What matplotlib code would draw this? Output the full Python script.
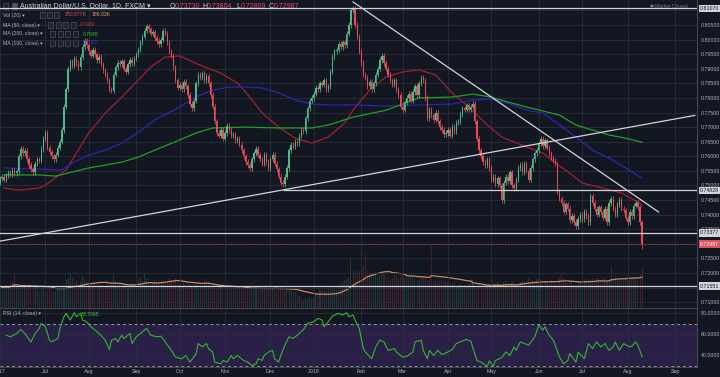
import numpy as np
import pandas as pd
import matplotlib
matplotlib.use("Agg")
import matplotlib.pyplot as plt
import matplotlib.transforms as mtransforms
from matplotlib.patches import Rectangle, Circle
from matplotlib.ticker import FormatStrFormatter, FuncFormatter

plt.rcParams['font.family'] = ['Liberation Sans', 'DejaVu Sans']

# ---- AUD/USD daily closes (FXCM), one list per month ----
close_2017_06 = [0.7525, 0.7530, 0.7520, 0.7535, 0.7545, 0.7538, 0.7550, 0.7542, 0.7548, 0.7600,
                 0.7625, 0.7610, 0.7618, 0.7590, 0.7570, 0.7555, 0.7545, 0.7575, 0.7590, 0.7585,
                 0.7625, 0.7660]
close_2017_07 = [0.7680, 0.7630, 0.7615, 0.7600, 0.7590, 0.7605, 0.7630, 0.7650, 0.7690, 0.7770,
                 0.7830, 0.7900, 0.7925, 0.7910, 0.7935, 0.7920, 0.7905, 0.7940, 0.7975, 0.7995,
                 0.7980]
close_2017_08 = [0.7960, 0.7945, 0.7965, 0.7950, 0.7930, 0.7940, 0.7915, 0.7895, 0.7880, 0.7860,
                 0.7830, 0.7825, 0.7880, 0.7905, 0.7920, 0.7915, 0.7925, 0.7900, 0.7890, 0.7915,
                 0.7930, 0.7920, 0.7935]
close_2017_09 = [0.7950, 0.7965, 0.7990, 0.8010, 0.8030, 0.8045, 0.8035, 0.8020, 0.8025, 0.8005,
                 0.7995, 0.7985, 0.8000, 0.8030, 0.8020, 0.7990, 0.7960, 0.7945, 0.7905, 0.7860,
                 0.7835]
close_2017_10 = [0.7845, 0.7830, 0.7855, 0.7840, 0.7810, 0.7780, 0.7765, 0.7790, 0.7850, 0.7880,
                 0.7870, 0.7885, 0.7860, 0.7875, 0.7850, 0.7810, 0.7770, 0.7720, 0.7680, 0.7670,
                 0.7690, 0.7660]
close_2017_11 = [0.7680, 0.7705, 0.7690, 0.7670, 0.7675, 0.7655, 0.7660, 0.7640, 0.7620, 0.7600,
                 0.7580, 0.7570, 0.7560, 0.7590, 0.7610, 0.7625, 0.7605, 0.7590, 0.7575, 0.7605,
                 0.7580, 0.7560]
close_2017_12 = [0.7590, 0.7605, 0.7575, 0.7555, 0.7530, 0.7510, 0.7505, 0.7530, 0.7560, 0.7620,
                 0.7640, 0.7635, 0.7650, 0.7645, 0.7670, 0.7690, 0.7685, 0.7730, 0.7765, 0.7790,
                 0.7800]
close_2018_01 = [0.7815, 0.7835, 0.7830, 0.7850, 0.7845, 0.7860, 0.7830, 0.7840, 0.7890, 0.7940,
                 0.7960, 0.7965, 0.7985, 0.7975, 0.7990, 0.7980, 0.8020, 0.8050, 0.8100, 0.8105,
                 0.8050, 0.8010, 0.7960]
close_2018_02 = [0.7920, 0.7880, 0.7870, 0.7840, 0.7855, 0.7830, 0.7850, 0.7880, 0.7900, 0.7930,
                 0.7945, 0.7920, 0.7900, 0.7880, 0.7860, 0.7845, 0.7860, 0.7830, 0.7810, 0.7770]
close_2018_03 = [0.7760, 0.7785, 0.7800, 0.7815, 0.7790, 0.7820, 0.7840, 0.7810, 0.7850, 0.7870,
                 0.7860, 0.7800, 0.7730, 0.7760, 0.7740, 0.7725, 0.7750, 0.7720, 0.7700, 0.7690,
                 0.7675, 0.7680]
close_2018_04 = [0.7690, 0.7670, 0.7700, 0.7685, 0.7715, 0.7720, 0.7745, 0.7765, 0.7760, 0.7775,
                 0.7760, 0.7770, 0.7780, 0.7720, 0.7660, 0.7620, 0.7600, 0.7580, 0.7570, 0.7590,
                 0.7560]
close_2018_05 = [0.7520, 0.7530, 0.7505, 0.7525, 0.7500, 0.7450, 0.7510, 0.7530, 0.7515, 0.7545,
                 0.7500, 0.7490, 0.7520, 0.7560, 0.7570, 0.7545, 0.7575, 0.7550, 0.7520, 0.7560,
                 0.7590, 0.7610, 0.7620]
close_2018_06 = [0.7645, 0.7660, 0.7635, 0.7655, 0.7630, 0.7610, 0.7595, 0.7585, 0.7575, 0.7480,
                 0.7455, 0.7440, 0.7410, 0.7435, 0.7420, 0.7380, 0.7395, 0.7375, 0.7360, 0.7385,
                 0.7400]
close_2018_07 = [0.7385, 0.7410, 0.7395, 0.7375, 0.7465, 0.7440, 0.7420, 0.7400, 0.7425, 0.7410,
                 0.7390, 0.7420, 0.7375, 0.7440, 0.7455, 0.7420, 0.7400, 0.7435, 0.7450, 0.7420,
                 0.7415, 0.7390]
close_2018_08 = [0.7375, 0.7410, 0.7395, 0.7430, 0.7440, 0.7425, 0.7373, 0.72987]

first_open = 0.7510
last_open, last_high, last_low, last_close = 0.73730, 0.73804, 0.72809, 0.72987

# daily volume, thousands
vol_2017_06 = [120, 135, 128, 142, 118, 150, 160, 212, 138, 125, 110, 145, 132, 128, 150, 118, 122, 140, 135, 98, 126, 130]
vol_2017_07 = [115, 105, 122, 98, 110, 100, 118, 125, 108, 130, 175, 190, 210, 185, 160, 172, 150, 168, 205, 180, 165]
vol_2017_08 = [150, 140, 135, 160, 128, 145, 138, 122, 130, 150, 142, 165, 205, 170, 138, 150, 125, 140, 132, 128, 145, 150, 118]
vol_2017_09 = [160, 175, 190, 170, 210, 185, 165, 150, 158, 172, 160, 150, 178, 165, 155, 170, 185, 168, 175, 190, 165]
vol_2017_10 = [150, 140, 160, 148, 135, 142, 130, 138, 150, 125, 132, 145, 180, 170, 165, 140, 130, 128, 125, 120, 135, 118]
vol_2017_11 = [130, 122, 118, 125, 112, 128, 120, 135, 118, 126, 140, 115, 110, 122, 118, 130, 105, 125, 128, 120, 112, 118]
vol_2017_12 = [125, 118, 140, 115, 112, 130, 120, 108, 115, 110, 105, 98, 92, 80, 72, 55, 50, 62, 58, 70, 65]
vol_2018_01 = [60, 85, 95, 110, 120, 105, 115, 125, 110, 130, 120, 115, 140, 150, 165, 175, 180, 195, 312, 230, 210, 240, 225]
vol_2018_02 = [245, 260, 337, 230, 215, 210, 200, 225, 190, 205, 210, 220, 195, 200, 180, 190, 210, 205, 185, 195]
vol_2018_03 = [210, 190, 200, 185, 195, 205, 180, 175, 190, 185, 200, 195, 170, 180, 400, 165, 175, 160, 170, 180, 165, 170]
vol_2018_04 = [160, 150, 155, 165, 140, 145, 150, 138, 142, 130, 150, 165, 175, 140, 120, 130, 125, 128, 135, 130, 145]
vol_2018_05 = [140, 155, 148, 160, 150, 135, 165, 170, 150, 145, 160, 155, 140, 150, 165, 175, 160, 170, 185, 160, 175, 165, 180]
vol_2018_06 = [180, 165, 155, 170, 160, 150, 175, 160, 150, 145, 185, 210, 190, 165, 155, 150, 160, 145, 140, 165, 160]
vol_2018_07 = [170, 180, 165, 175, 160, 185, 170, 190, 180, 175, 195, 185, 170, 180, 262, 185, 195, 180, 175, 170, 190, 185]
vol_2018_08 = [185, 195, 180, 200, 190, 175, 210, 250.577]

# moving averages shown on the chart (trading day number from 2017-06-01, value)
ma50_day = [2, 9, 19, 22, 32, 43, 51, 59, 67, 73, 80, 87, 99, 107, 115, 119, 127, 135, 143, 151, 159,
            167, 171, 179, 187, 195, 203, 211, 219, 227, 235, 243, 255, 263, 269, 276, 282, 292, 301, 309, 311]
ma50_val = [0.7491, 0.7484, 0.7491, 0.7501, 0.7553, 0.7680, 0.7748, 0.7803, 0.7861, 0.7906, 0.7940,
            0.7944, 0.7906, 0.7885, 0.7851, 0.7820, 0.7748, 0.7700, 0.7662, 0.7645, 0.7666, 0.7714,
            0.7758, 0.7827, 0.7872, 0.7889, 0.7896, 0.7879, 0.7817, 0.7769, 0.7714, 0.7666, 0.7632,
            0.7611, 0.7577, 0.7542, 0.7508, 0.7491, 0.7474, 0.7443, 0.7432]
ma100_day = [2, 30, 35, 43, 51, 59, 67, 75, 87, 95, 103, 111, 119, 127, 135, 143, 151, 159, 171, 187,
             203, 219, 229, 238, 246, 255, 263, 271, 279, 287, 295, 303, 311]
ma100_val = [0.7560, 0.7553, 0.7577, 0.7604, 0.7621, 0.7645, 0.7683, 0.7724, 0.7769, 0.7803, 0.7827,
             0.7837, 0.7837, 0.7834, 0.7817, 0.7793, 0.7779, 0.7776, 0.7776, 0.7772, 0.7776, 0.7779,
             0.7793, 0.7796, 0.7782, 0.7758, 0.7748, 0.7707, 0.7666, 0.7621, 0.7594, 0.7560, 0.7525]
ma200_day = [2, 19, 27, 35, 43, 51, 59, 67, 75, 87, 95, 103, 119, 135, 151, 159, 171, 187, 203, 219,
             229, 238, 246, 255, 271, 279, 287, 295, 303, 311]
ma200_val = [0.7536, 0.7536, 0.7532, 0.7546, 0.7560, 0.7570, 0.7580, 0.7597, 0.7621, 0.7656, 0.7680,
             0.7697, 0.7700, 0.7697, 0.7697, 0.7707, 0.7734, 0.7758, 0.7800, 0.7803, 0.7813, 0.7803,
             0.7786, 0.7769, 0.7741, 0.7707, 0.7690, 0.7673, 0.7662, 0.7648]

# RSI(14) as drawn
rsi_day = [3, 5, 8, 10, 12, 15, 17, 19, 20, 22, 24, 25, 28, 29, 31, 32, 34, 36, 37, 39, 40, 42, 44, 48,
           51, 53, 54, 56, 57, 59, 60, 63, 64, 66, 68, 71, 73, 76, 78, 80, 83, 85, 88, 90, 92, 95, 96,
           98, 100, 101, 103, 104, 107, 108, 110, 112, 113, 115, 116, 118, 120, 122, 124, 125, 127,
           128, 130, 132, 133, 135, 136, 138, 140, 142, 144, 147, 149, 152, 154, 156, 157, 159, 161,
           164, 166, 168, 169, 171, 172, 174, 176,
           177, 180, 182, 184, 186, 188, 191, 192, 195, 197, 200, 201, 204, 205, 207, 208, 210, 212,
           214, 216, 219, 221, 224, 226, 228, 231, 233, 236, 237, 239, 240, 243, 245, 247, 249, 250,
           252, 254, 256, 259, 261, 263, 264, 266, 268, 271, 273, 275, 276, 279, 280, 283, 285, 287,
           289, 291, 293, 295, 297, 298, 300, 302, 305, 306, 308, 309, 311]
rsi_val = [59.2, 57.6, 60.8, 64.6, 60.8, 52.8, 60.8, 65.6, 70.4, 67.2, 54.4, 52.8, 56.0, 65.6, 76.8,
           80.0, 73.6, 80.6, 76.8, 80.0, 73.6, 72.0, 67.2, 60.8, 54.4, 45.4, 54.4, 56.0, 52.8, 59.2,
           56.0, 60.8, 51.2, 57.6, 60.8, 65.6, 59.2, 57.6, 58.2, 52.8, 44.7, 38.3, 36.7, 39.9, 33.5,
           41.5, 51.2, 48.0, 51.2, 46.3, 43.1, 33.5, 31.9, 35.1, 33.5, 39.9, 36.7, 39.9, 38.3, 35.1,
           33.5, 30.3, 31.9, 36.7, 35.1, 39.9, 43.1, 44.7, 36.7, 33.5, 39.9, 49.6, 57.6, 56.0, 59.2,
           64.6, 70.4, 72.0, 75.2, 73.6, 67.2, 72.0, 77.4, 80.0, 78.4, 80.6, 76.8, 78.4, 73.6, 65.6,
           46.3,
           43.1, 36.7, 48.0, 54.4, 52.8, 44.7, 46.3, 43.1, 38.3, 39.0, 43.1, 52.8, 54.4, 44.7, 36.7,
           44.7, 39.9, 44.7, 40.9, 42.2, 45.4, 51.2, 53.7, 55.0, 53.7, 35.1, 33.5, 29.4, 34.6, 29.4,
           35.1, 37.7, 43.1, 39.9, 48.0, 44.7, 52.8, 51.2, 49.6, 57.6, 68.8, 64.0, 67.2, 59.2, 54.4,
           38.3, 31.9, 35.1, 41.5, 33.5, 43.1, 36.7, 51.2, 46.3, 52.8, 48.0, 51.2, 44.7, 48.0, 52.8,
           44.7, 51.2, 48.0, 48.6, 52.8, 49.6, 38.7]

# drawings on the chart
trend_down_day, trend_down_price = [171, 319], [0.8129, 0.7409]
trend_up_day, trend_up_price = [0, 336.5], [0.7309, 0.7740]
hline_levels = [0.81070, 0.73377, 0.71551]
ray_start_day, ray_level = 137, 0.74828

closes = np.array(close_2017_06 + close_2017_07 + close_2017_08 + close_2017_09 + close_2017_10 +
                  close_2017_11 + close_2017_12 + close_2018_01 + close_2018_02 + close_2018_03 +
                  close_2018_04 + close_2018_05 + close_2018_06 + close_2018_07 + close_2018_08)
volumes = np.array(vol_2017_06 + vol_2017_07 + vol_2017_08 + vol_2017_09 + vol_2017_10 +
                   vol_2017_11 + vol_2017_12 + vol_2018_01 + vol_2018_02 + vol_2018_03 +
                   vol_2018_04 + vol_2018_05 + vol_2018_06 + vol_2018_07 + vol_2018_08, dtype=float)
assert len(closes) == len(volumes)
n = len(closes)
day = np.arange(n)

opens = np.r_[first_open, closes[:-1]]
wick = 0.0009
highs = np.maximum(opens, closes) + wick
lows = np.minimum(opens, closes) - wick
highs[-1], lows[-1] = last_high, last_low

BG = '#131722'
GRID = '#2a2e39'
TXT = '#b2b5be'
UP = '#53b987'
DOWN = '#eb4d5c'
LINE = '#d1d4dc'

W, H = 720, 377


def rect(x0, y0, x1, y1):
    return [x0 / W, 1 - y1 / H, (x1 - x0) / W, (y1 - y0) / H]


fig = plt.figure(figsize=(7.2, 3.77), dpi=100, facecolor=BG)
ax_v = fig.add_axes(rect(0, 0, 697, 308))
ax = fig.add_axes(rect(0, 0, 697, 308), sharex=ax_v)
ax_r = fig.add_axes(rect(0, 308, 697, 367), sharex=ax_v)
ax_v.set_zorder(1)
ax.set_zorder(2)
ax_r.set_zorder(1)
ax.patch.set_alpha(0)
ax_r.set_facecolor(BG)

# volume overlay
up = closes >= opens
cols = np.where(up, UP, DOWN)
ax_v.bar(day, volumes, width=0.5, color=cols, alpha=0.22, linewidth=0)
vol_ma = pd.Series(volumes).rolling(20, min_periods=1).mean()
ax_v.plot(day, vol_ma, color='#c98a5e', lw=0.9)
ax_v.set_ylim(0, 1925)
ax_v.axis('off')

# price pane
covered = {'0.81000', '0.73000', '0.71500'}   # these sit under the price boxes
ax.set_xlim(2.8, 337.6)
ax.set_ylim(0.70798, 0.81357)
ax.yaxis.tick_right()
ax.set_yticks(np.arange(0.710, 0.8101, 0.005))
ax.yaxis.set_major_formatter(FuncFormatter(lambda v, p: '' if f'{v:.5f}' in covered else f'{v:.5f}'))
ax.tick_params(axis='y', length=0, pad=2.5, labelsize=3.8, labelcolor=TXT)
ax.tick_params(axis='x', length=0, labelbottom=False)
ax.grid(True, color=GRID, lw=0.6)
for s in ['left', 'top']:
    ax.spines[s].set_visible(False)
for s in ['right', 'bottom']:
    ax.spines[s].set_color('#434651')
    ax.spines[s].set_linewidth(0.8)

ax.plot(ma50_day, ma50_val, color='#a3202a', lw=0.9, zorder=2)
ax.plot(ma100_day, ma100_val, color='#2828b0', lw=0.9, zorder=2)
ax.plot(ma200_day, ma200_val, color='#22a022', lw=0.9, zorder=2)

ax.vlines(day, lows, highs, colors=cols, lw=0.55, zorder=3)
ax.bar(day, np.maximum(np.abs(closes - opens), 0.00006), width=0.62,
       bottom=np.minimum(opens, closes), color=cols, linewidth=0, zorder=4)

ax.plot(trend_down_day, trend_down_price, color=LINE, lw=0.9, zorder=5)
ax.plot(trend_up_day, trend_up_price, color=LINE, lw=0.9, zorder=5)
for lvl in hline_levels:
    ax.axhline(lvl, color=LINE, lw=0.9, zorder=5)
ax.hlines(ray_level, ray_start_day, 340, color=LINE, lw=0.9, zorder=5)
ax.axhline(last_close, color='#b2434f', lw=0.7, ls=(0, (1.5, 1.5)), zorder=5)

trans = mtransforms.blended_transform_factory(ax.transAxes, ax.transData)
boxes = [(0.81070, LINE, BG), (ray_level, LINE, BG), (0.73377, LINE, BG),
         (last_close, '#e0525f', 'white'), (0.71551, LINE, BG)]
for price, fc, tc in boxes:
    ax.text(1 + 3 / 697, price, f'{price:.5f}', transform=trans, ha='left', va='center',
            fontsize=3.8, color=tc, clip_on=False, zorder=10,
            bbox=dict(boxstyle='square,pad=0.25', fc=fc, ec='none'))

# RSI pane
ax_r.axhspan(30, 70, color='#2a1f47', lw=0, zorder=0)
ax_r.axhline(70, color='#9598a1', lw=0.7, ls=(0, (3, 3)))
ax_r.axhline(30, color='#9598a1', lw=0.7, ls=(0, (3, 3)))
ax_r.plot(rsi_day, rsi_val, color='#35b535', lw=0.8)
ax_r.set_ylim(28.86, 85.05)
ax_r.yaxis.tick_right()
ax_r.set_yticks([40, 60, 80])
ax_r.yaxis.set_major_formatter(FormatStrFormatter('%.4f'))
ax_r.tick_params(axis='y', length=0, pad=2.5, labelsize=3.8, labelcolor=TXT)
ax_r.grid(True, color=GRID, lw=0.6)
for s in ['left', 'top']:
    ax_r.spines[s].set_visible(False)
for s in ['right', 'bottom']:
    ax_r.spines[s].set_color('#434651')
    ax_r.spines[s].set_linewidth(0.8)

# month ticks
ext = pd.bdate_range('2017-06-01', periods=345)
starts = [0] + [i for i in range(1, len(ext)) if ext[i].month != ext[i - 1].month]
labels = [str(ext[i].year) if (ext[i].month == 1 or i == 0) else ext[i].strftime('%b') for i in starts]
ax_r.set_xticks(starts)
ax_r.set_xticklabels(labels)
ax_r.tick_params(axis='x', length=0, pad=1.5, labelsize=3.8, labelcolor=TXT)


# legend / header
def ftxt(x, y, s, color, size=3.7, **kw):
    fig.text(x / W, 1 - y / H, s, color=color, fontsize=size, va='center', ha='left', **kw)


def icon(x, y, filled=False):
    fig.add_artist(Rectangle((x / W, 1 - (y + 2.5) / H), 5 / W, 5 / H, transform=fig.transFigure,
                             fc='#50535e' if filled else '#1e222d', ec='#50535e', lw=0.5))


icon(3, 6)
icon(12, 6, filled=True)
ftxt(20, 6, 'Australian Dollar/U.S. Dollar, 1D, FXCM \u25be', '#d1d4dc', 5)
for x, letter, val in [(170, 'O', last_open), (202, 'H', last_high), (236, 'L', last_low), (269, 'C', last_close)]:
    ftxt(x, 6, letter, '#d1d4dc', 5)
    ftxt(x + 4.5, 6, f'{val:.5f}', '#e05060', 5)

ftxt(3, 15, 'Vol (20) \u25be', TXT)
for x in [40, 47, 54]:
    icon(x, 15)
ftxt(65, 15, '250.577K', '#e05060')
ftxt(92, 15, '186.03K', '#e0a060')

rows = [(25, 'MA (50, close) \u25be', 48, '0.7432', '#e03040', 80),
        (34, 'MA (200, close) \u25be', 50, '0.7648', '#30c030', 83),
        (43, 'MA (100, close) \u25be', 50, '0.7525', '#3a3ae0', 83)]
for y, lab, bx, val, vc, vx in rows:
    ftxt(3, y, lab, TXT)
    for k in range(4):
        icon(bx + 7.7 * k, y)
    ftxt(vx, y, val, vc)

ftxt(3, 314, 'RSI (14, close) \u25be', TXT)
for k in range(4):
    icon(47 + 7.7 * k, 314)
ftxt(81, 314, '38.7065', '#35d035')

fig.add_artist(Circle((652 / W, 1 - 6 / H), 1.2 / W, transform=fig.transFigure, color='#787b86'))
ftxt(655, 6, 'Market Closed', '#787b86', 3.6)

fig.savefig('out.png', dpi=100, facecolor=BG)
